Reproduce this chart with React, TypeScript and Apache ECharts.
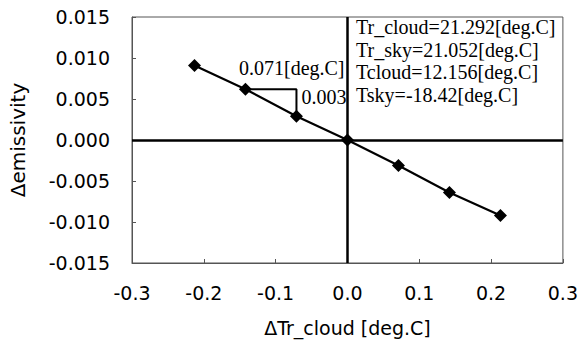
import React, { useEffect, useRef } from "react";
import * as echarts from "echarts";

const xValues = [-0.213, -0.142, -0.071, 0, 0.071, 0.142, 0.213];
const yValues = [0.0091, 0.0062, 0.0029, 0, -0.0031, -0.0064, -0.0092];
const triangleX = [-0.142, -0.071, -0.071];
const triangleY = [0.0062, 0.0062, 0.0029];
const annotationTexts = ["0.071[deg.C]", "0.003"];
const annotationX = [-0.158, -0.071];
const annotationY = [0.0062, 0.0029];
const infoLines = [
  "Tr_cloud=21.292[deg.C]",
  "Tr_sky=21.052[deg.C]",
  "Tcloud=12.156[deg.C]",
  "Tsky=-18.42[deg.C]",
];
const xTitle = "\u0394Tr_cloud [deg.C]";
const yTitle = "\u0394emissivity";

export default function App() {
  const ref = useRef<HTMLDivElement>(null);
  useEffect(() => {
    document.body.style.margin = "0";
    if (!ref.current) return;
    const chart = echarts.init(ref.current, null, { renderer: "svg" });
    const sans = "DejaVu Sans";
    const serif = "Liberation Serif";
    chart.setOption({
      animation: false,
      backgroundColor: "#fff",
      grid: {
        left: 131,
        top: 17,
        right: 13,
        bottom: 78,
        show: true,
        borderColor: "#555",
        borderWidth: 1,
      },
      xAxis: {
        type: "value",
        min: -0.3,
        max: 0.3,
        interval: 0.1,
        name: xTitle,
        nameLocation: "middle",
        nameGap: 55,
        nameTextStyle: { fontFamily: sans, fontSize: 19, color: "#000" },
        axisLine: { onZero: false, lineStyle: { color: "#555", width: 1 } },
        axisTick: { inside: true, length: 4, lineStyle: { color: "#555" } },
        splitLine: { show: false },
        axisLabel: {
          margin: 20,
          fontFamily: sans,
          fontSize: 19,
          color: "#000",
          formatter: (v: number) => v.toFixed(1),
        },
      },
      yAxis: {
        type: "value",
        min: -0.015,
        max: 0.015,
        interval: 0.005,
        name: yTitle,
        nameLocation: "middle",
        nameGap: 104,
        nameRotate: 90,
        nameTextStyle: { fontFamily: sans, fontSize: 20, color: "#000" },
        axisLine: { onZero: false, lineStyle: { color: "#555", width: 1 } },
        axisTick: { inside: true, length: 4, lineStyle: { color: "#555" } },
        splitLine: { show: false },
        axisLabel: {
          margin: 22,
          fontFamily: sans,
          fontSize: 19,
          color: "#000",
          formatter: (v: number) => v.toFixed(3),
        },
      },
      series: [
        {
          type: "line",
          data: xValues.map((x, i) => [x, yValues[i]]),
          symbol: "diamond",
          symbolSize: 13,
          itemStyle: { color: "#000" },
          lineStyle: { color: "#000", width: 2.2 },
          z: 5,
          markLine: {
            silent: true,
            symbol: "none",
            label: { show: false },
            lineStyle: { color: "#000", width: 2.5, type: "solid" },
            data: [{ xAxis: 0 }, { yAxis: 0 }],
          },
        },
        {
          type: "line",
          data: triangleX.map((x, i) => [x, triangleY[i]]),
          symbol: "none",
          lineStyle: { color: "#000", width: 2 },
          z: 4,
        },
        {
          type: "scatter",
          symbolSize: 0,
          itemStyle: { opacity: 1 },
          data: annotationX.map((x, i) => ({
            value: [x, annotationY[i]],
            name: annotationTexts[i],
            label: i === 0
              ? { position: "insideBottomLeft", offset: [0, -6] }
              : { position: "right", offset: [0, -19] },
          })),
          label: {
            show: true,
            formatter: (p: any) => p.name,
            fontFamily: serif,
            fontSize: 20,
            color: "#000",
            textBorderWidth: 0,
          },
          z: 6,
        },
      ],
      graphic: infoLines.map((t, i) => ({
        type: "text",
        left: 356,
        top: 17 + i * 22.7,
        style: {
          text: t,
          fontFamily: serif,
          fontSize: 20,
          fill: "#000",
        },
      })),
    });
    return () => chart.dispose();
  }, []);
  return <div ref={ref} style={{ width: 581, height: 342 }} />;
}
